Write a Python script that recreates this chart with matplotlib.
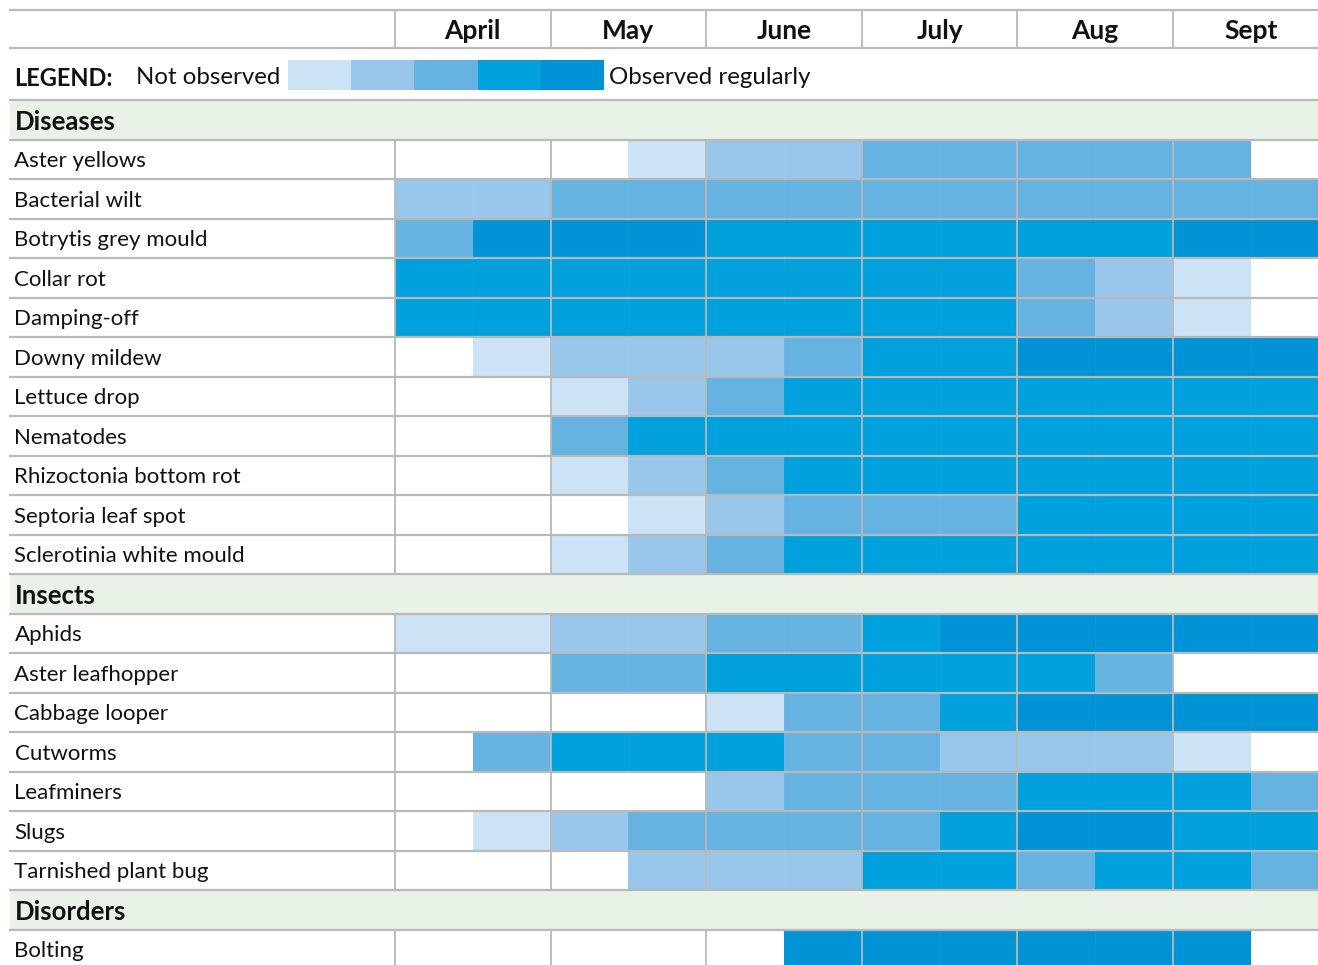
import matplotlib
matplotlib.use("Agg")
import matplotlib.pyplot as plt
from matplotlib.patches import Rectangle

plt.rcParams['font.family'] = ['Lato', 'DejaVu Sans']

months = ["April", "May", "June", "July", "Aug", "Sept"]

# Observation level per half-month (Apr 1st half ... Sept 2nd half), 0 = not observed
sections = ["Diseases", "Insects", "Disorders"]

disease_names = [
    "Aster yellows", "Bacterial wilt", "Botrytis grey mould", "Collar rot",
    "Damping-off", "Downy mildew", "Lettuce drop", "Nematodes",
    "Rhizoctonia bottom rot", "Septoria leaf spot", "Sclerotinia white mould",
]
disease_levels = [
    [0, 0, 0, 1, 2, 2, 3, 3, 3, 3, 3, 0],
    [2, 2, 3, 3, 3, 3, 3, 3, 3, 3, 3, 3],
    [3, 5, 5, 5, 4, 4, 4, 4, 4, 4, 5, 5],
    [4, 4, 4, 4, 4, 4, 4, 4, 3, 2, 1, 0],
    [4, 4, 4, 4, 4, 4, 4, 4, 3, 2, 1, 0],
    [0, 1, 2, 2, 2, 3, 4, 4, 5, 5, 5, 5],
    [0, 0, 1, 2, 3, 4, 4, 4, 4, 4, 4, 4],
    [0, 0, 3, 4, 4, 4, 4, 4, 4, 4, 4, 4],
    [0, 0, 1, 2, 3, 4, 4, 4, 4, 4, 4, 4],
    [0, 0, 0, 1, 2, 3, 3, 3, 4, 4, 4, 4],
    [0, 0, 1, 2, 3, 4, 4, 4, 4, 4, 4, 4],
]

insect_names = [
    "Aphids", "Aster leafhopper", "Cabbage looper", "Cutworms",
    "Leafminers", "Slugs", "Tarnished plant bug",
]
insect_levels = [
    [1, 1, 2, 2, 3, 3, 4, 5, 5, 5, 5, 5],
    [0, 0, 3, 3, 4, 4, 4, 4, 4, 3, 0, 0],
    [0, 0, 0, 0, 1, 3, 3, 4, 5, 5, 5, 5],
    [0, 3, 4, 4, 4, 3, 3, 2, 2, 2, 1, 0],
    [0, 0, 0, 0, 2, 3, 3, 3, 4, 4, 4, 3],
    [0, 1, 2, 3, 3, 3, 3, 4, 5, 5, 4, 4],
    [0, 0, 0, 2, 2, 2, 4, 4, 3, 4, 4, 3],
]

disorder_names = ["Bolting"]
disorder_levels = [
    [0, 0, 0, 0, 0, 5, 5, 5, 5, 5, 5, 0],
]

level_colors = ["#ffffff", "#cce2f5", "#99c7eb", "#66b3e2", "#00a1dc", "#0093d6"]
grid_color = "#b9b9b9"
band_color = "#e8f2e6"
text_color = "#111111"

W, H = 1318, 965
fig = plt.figure(figsize=(W / 100, H / 100), dpi=100)
ax = fig.add_axes([0, 0, 1, 1])
ax.set_xlim(0, W)
ax.set_ylim(H, 0)
ax.axis("off")

left = 10
text_x = 14.5
label_w = 395
month_w = 155.6
half_w = month_w / 2
row_h = 39.5

# header row
top, head_bot = 10, 48
ax.plot([left, W], [top, top], color=grid_color, lw=1.6, zorder=5)
ax.plot([left, W], [head_bot, head_bot], color=grid_color, lw=1.6, zorder=5)
for i, m in enumerate(months):
    x0 = label_w + i * month_w
    ax.plot([x0, x0], [top, head_bot], color=grid_color, lw=1.3, zorder=5)
    ax.text(x0 + month_w / 2, (top + head_bot) / 2 + 2, m, ha="center", va="center",
            fontsize=19, fontweight="bold", color=text_color)

# legend row
leg_bot = 100
ax.text(text_x, 78, "LEGEND:", ha="left", va="center", fontsize=17, fontweight="bold",
        color=text_color)
ax.text(136, 78, "Not observed", ha="left", va="center", fontsize=17.3, color=text_color)
sw_x0, sw_w = 288, 63.2
for k in range(1, 6):
    ax.add_patch(Rectangle((sw_x0 + (k - 1) * sw_w, 60), sw_w, 30,
                           facecolor=level_colors[k], edgecolor="none", zorder=2))
ax.text(sw_x0 + 5 * sw_w + 5, 78, "Observed regularly", ha="left", va="center",
        fontsize=17.3, color=text_color)
ax.plot([left, W], [leg_bot, leg_bot], color=grid_color, lw=1.6, zorder=5)

# body
groups = [
    (sections[0], disease_names, disease_levels),
    (sections[1], insect_names, insect_levels),
    (sections[2], disorder_names, disorder_levels),
]

y = leg_bot
for title, names, levels in groups:
    ax.add_patch(Rectangle((left, y), W - left, row_h, facecolor=band_color,
                           edgecolor="none", zorder=1))
    ax.text(text_x, y + row_h / 2 + 2, title, ha="left", va="center", fontsize=18.5,
            fontweight="bold", color=text_color)
    ax.plot([left, W], [y + row_h, y + row_h], color=grid_color, lw=1.6, zorder=5)
    y += row_h
    for name, vals in zip(names, levels):
        for j, v in enumerate(vals):
            if v > 0:
                ax.add_patch(Rectangle((label_w + j * half_w, y), half_w, row_h,
                                       facecolor=level_colors[v], edgecolor="none", zorder=2))
                if j % 2 == 1 and vals[j - 1] > 0:
                    ax.plot([label_w + j * half_w] * 2, [y, y + row_h],
                            color="#ffffff", lw=0.8, alpha=0.04, zorder=3)
        for i in range(len(months)):
            x0 = label_w + i * month_w
            ax.plot([x0, x0], [y, y + row_h], color=grid_color, lw=1.3, zorder=5)
        ax.text(text_x, y + row_h / 2 + 2, name, ha="left", va="center", fontsize=16,
                color=text_color)
        ax.plot([left, W], [y + row_h, y + row_h], color=grid_color, lw=1.6, zorder=5)
        y += row_h

fig.savefig("out.png", dpi=100)
